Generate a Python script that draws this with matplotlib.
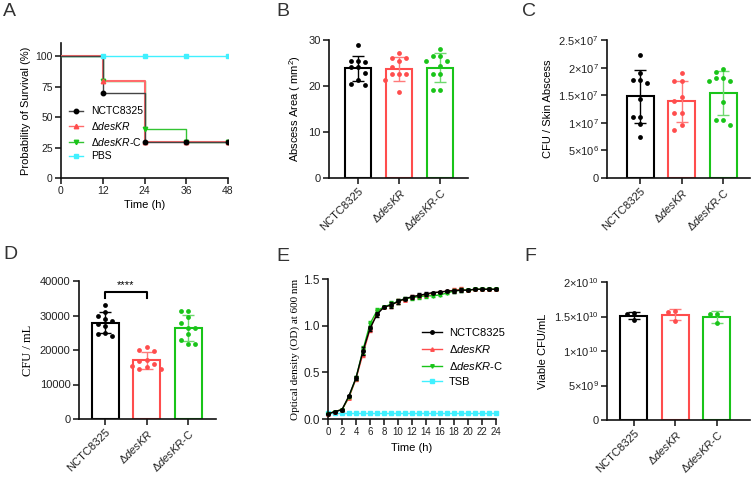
import numpy as np
import matplotlib
matplotlib.use('Agg')
import matplotlib.pyplot as plt
from matplotlib.lines import Line2D

plt.rcParams['font.family'] = ['Liberation Sans', 'DejaVu Sans']
plt.rcParams['mathtext.fontset'] = 'custom'
plt.rcParams['mathtext.rm'] = 'Liberation Sans'
plt.rcParams['mathtext.it'] = 'Liberation Sans:italic'
plt.rcParams['mathtext.default'] = 'regular'

# ---------------- data ----------------
groups = ['NCTC8325', r'$\Delta\mathit{desKR}$', r'$\Delta\mathit{desKR}$-C']
colors = ['black', '#FF4D4D', '#19C419']
err_colors = ['black', '#FF7A7A', '#6ED96E']

# A: survival (%)
surv_t = [0, 12, 24, 36, 48]
surv_nctc = [100, 70, 30, 30, 30]
surv_deskr = [100, 80, 30, 30, 30]
surv_deskrc = [100, 80, 40, 30, 30]
surv_pbs = [100, 100, 100, 100, 100]

# B: abscess area (mm2)
area_nctc = [29.0, 25.5, 25.5, 25.3, 24.1, 24.1, 22.8, 21.2, 20.4, 20.2]
area_deskr = [27.2, 26.1, 26.1, 25.5, 24.2, 22.7, 22.7, 22.7, 21.4, 18.8]
area_deskrc = [28.1, 26.5, 26.5, 25.5, 25.5, 24.4, 22.6, 22.6, 19.1, 19.1]

# C: CFU / skin abscess
cfu_nctc = [2.23e7, 1.90e7, 1.78e7, 1.78e7, 1.73e7, 1.43e7, 1.11e7, 1.11e7, 0.97e7, 0.75e7]
cfu_deskr = [1.90e7, 1.76e7, 1.76e7, 1.47e7, 1.40e7, 1.18e7, 1.18e7, 0.96e7, 0.87e7]
cfu_deskrc = [1.97e7, 1.92e7, 1.81e7, 1.81e7, 1.76e7, 1.76e7, 1.37e7, 1.05e7, 1.05e7, 0.96e7]
c_ticks = [0, 5e6, 1e7, 1.5e7, 2e7, 2.5e7]
c_ticklabels = ['0', r'5×10$^{6}$', r'1×10$^{7}$', r'1.5×10$^{7}$', r'2×10$^{7}$', r'2.5×10$^{7}$']

# D: CFU / mL
ml_nctc = [33000, 31000, 30000, 29000, 28500, 27500, 27000, 25000, 24500, 24000]
ml_deskr = [21000, 20000, 19600, 17200, 16800, 15800, 15500, 15000, 14500, 14400]
ml_deskrc = [31400, 31400, 29500, 27800, 26300, 26300, 24500, 22800, 21800, 21800]

# E: growth curve OD600
hours = list(range(25))
od_nctc = [0.055, 0.08, 0.10, 0.25, 0.44, 0.73, 0.97, 1.12, 1.20, 1.22, 1.26, 1.29, 1.31,
           1.325, 1.34, 1.355, 1.36, 1.37, 1.375, 1.38, 1.38, 1.39, 1.39, 1.39, 1.39]
od_deskr = [0.055, 0.08, 0.10, 0.23, 0.43, 0.70, 0.96, 1.14, 1.20, 1.22, 1.26, 1.28, 1.31,
            1.32, 1.33, 1.35, 1.36, 1.37, 1.38, 1.39, 1.38, 1.39, 1.39, 1.39, 1.39]
od_deskrc = [0.055, 0.08, 0.10, 0.24, 0.44, 0.74, 1.02, 1.16, 1.20, 1.23, 1.26, 1.29, 1.30,
             1.31, 1.32, 1.32, 1.33, 1.35, 1.37, 1.38, 1.38, 1.39, 1.39, 1.39, 1.39]
od_tsb = [0.065, 0.065, 0.065, 0.065, 0.065, 0.065, 0.065, 0.065, 0.065, 0.065, 0.065, 0.065, 0.065,
          0.065, 0.065, 0.065, 0.065, 0.065, 0.065, 0.065, 0.065, 0.065, 0.065, 0.065, 0.065]
od_err = [0.005, 0.005, 0.01, 0.01, 0.02, 0.04, 0.03, 0.03, 0.01, 0.03, 0.03, 0.02, 0.02,
          0.02, 0.02, 0.01, 0.01, 0.01, 0.02, 0.02, 0.01, 0.01, 0.01, 0.01, 0.01]

# F: viable CFU/mL
via_nctc = [1.55e10, 1.53e10, 1.45e10]
via_deskr = [1.58e10, 1.56e10, 1.44e10]
via_deskrc = [1.54e10, 1.54e10, 1.40e10]
f_ticks = [0, 5e9, 1e10, 1.5e10, 2e10]
f_ticklabels = ['0', r'5×10$^{9}$', r'1×10$^{10}$', r'1.5×10$^{10}$', r'2×10$^{10}$']

W, H = 753, 478
fig = plt.figure(figsize=(W / 100, H / 100), dpi=100)


def axes_px(left, right, top, bottom):
    return fig.add_axes([left / W, 1 - bottom / H, (right - left) / W, (bottom - top) / H])


def prism(ax, size=8):
    for s in ['top', 'right']:
        ax.spines[s].set_visible(False)
    for s in ['left', 'bottom']:
        ax.spines[s].set_linewidth(1.2)
        ax.spines[s].set_color('#111')
    ax.tick_params(direction='out', length=4, width=1.2, labelsize=size, colors='#222', pad=2)


def swarm(ax, vals, diam=6.0):
    pos = ax.get_position()
    x0, x1 = ax.get_xlim()
    y0, y1 = ax.get_ylim()
    ppx = pos.width * W / (x1 - x0)
    ppy = pos.height * H / (y1 - y0)
    offs = np.zeros(len(vals))
    placed = []
    for i in np.argsort(vals)[::-1]:
        y = vals[i] * ppy
        for k in [0, -1, 1, -2, 2, -3, 3]:
            x = k * diam * 1.2
            if all((x - a) ** 2 + (y - b) ** 2 >= diam ** 2 for a, b in placed):
                break
        placed.append((x, y))
        offs[i] = x / ppx
    return offs


def bar_panel(ax, data, xlim, ylim):
    ax.set_xlim(*xlim)
    ax.set_ylim(*ylim)
    for i, vals in enumerate(data):
        vals = np.array(vals)
        m, sd = vals.mean(), vals.std(ddof=1)
        ax.bar(i, m, width=0.65, facecolor='white', edgecolor=colors[i], linewidth=1.5, zorder=2)
        ax.errorbar(i, m, yerr=sd, color=err_colors[i], capsize=4, elinewidth=1, capthick=1, zorder=3)
        ax.scatter(i + swarm(ax, vals), vals, s=12, color=colors[i], zorder=4, linewidths=0)
    ax.set_xticks(range(3))
    ax.set_xticklabels(groups, rotation=45, ha='right', rotation_mode='anchor', fontsize=8.5)
    prism(ax)


def letter(x, y, s):
    fig.text(x / W, 1 - y / H, s, fontsize=14, color='#333', va='top', ha='left')


# ---------------- A ----------------
axA = axes_px(61, 228, 43, 178)
surv = [surv_nctc, surv_deskr, surv_deskrc, surv_pbs]
surv_lc = ['#444', '#FF6B6B', '#33C433', '#40F0FF']
surv_mc = ['black', '#FF4D4D', '#19C419', '#40F0FF']
surv_lw = [1.0, 1.5, 1.0, 1.0]
marks = ['o', '^', 'v', 's']
surv_z = [5, 4, 3, 2]
labelsA = groups + ['PBS']
for s, lc, mc, mk, z, lw in zip(surv, surv_lc, surv_mc, marks, surv_z, surv_lw):
    axA.step(surv_t, s, where='post', color=lc, lw=lw, zorder=z)
    axA.plot(surv_t[1:], s[1:], ls='none', marker=mk, color=mc, ms=3.2, zorder=z + 5)
axA.set_xlim(0, 48)
axA.set_ylim(0, 111)
axA.set_xticks(surv_t)
axA.set_yticks([0, 25, 50, 75, 100])
prism(axA, 7.5)
axA.set_xlabel('Time (h)', fontsize=8, labelpad=3)
axA.set_ylabel('Probability of Survival (%)', fontsize=8, labelpad=3)
handlesA = [Line2D([], [], color=lc, marker=mk, markerfacecolor=mc, markeredgecolor=mc, ms=3.2, lw=1)
            for lc, mc, mk in zip(surv_lc, surv_mc, marks)]
axA.legend(handlesA, labelsA, loc='upper left', bbox_to_anchor=(0.05, 0.53), frameon=False,
           fontsize=7.5, handlelength=1.3, handletextpad=0.8, labelspacing=0.35,
           borderpad=0, borderaxespad=0)

# ---------------- B ----------------
axB = axes_px(329, 468, 40, 178)
bar_panel(axB, [area_nctc, area_deskr, area_deskrc], (-0.71, 2.68), (0, 30))
axB.set_yticks([0, 10, 20, 30])
axB.set_ylabel(r'Abscess Area ( mm$^{2}$)', fontsize=8)

# ---------------- C ----------------
axC = axes_px(607, 750, 40, 178)
bar_panel(axC, [cfu_nctc, cfu_deskr, cfu_deskrc], (-0.80, 2.65), (0, 2.5e7))
axC.set_yticks(c_ticks)
axC.set_yticklabels(c_ticklabels)
axC.set_ylabel('CFU / Skin Abscess', fontsize=8)

# ---------------- D ----------------
axD = axes_px(79, 216, 281, 419)
bar_panel(axD, [ml_nctc, ml_deskr, ml_deskrc], (-0.63, 2.67), (0, 40000))
axD.set_yticks([0, 10000, 20000, 30000, 40000])
axD.set_ylabel('CFU / mL', fontsize=9, family='Liberation Serif')
axD.plot([0, 0, 1, 1], [35200, 36900, 36900, 35200], color='black', lw=1.5, clip_on=False)
axD.text(0.5, 37400, '****', ha='center', va='bottom', fontsize=8)

# ---------------- E ----------------
axE = axes_px(328, 496, 279, 419)
ods = [od_nctc, od_deskr, od_deskrc, od_tsb]
e_colors = ['black', '#FF4D4D', '#19C419', '#40F0FF']
e_z = [5, 3, 4, 2]
labelsE = groups + ['TSB']
for od, c, mk, z in zip(ods, e_colors, marks, e_z):
    errs = od_err if od is not od_tsb else None
    axE.errorbar(hours, od, yerr=errs, color=c, marker=mk, ms=2.5, lw=1, elinewidth=0.8,
                 capsize=1.5, zorder=z, clip_on=False)
axE.set_xlim(0, 24)
axE.set_ylim(0, 1.5)
axE.set_xticks(range(0, 25, 2))
axE.set_yticks([0, 0.5, 1.0, 1.5])
axE.set_yticklabels(['0.0', '0.5', '1.0', '1.5'])
prism(axE, 8.5)
axE.tick_params(axis='x', labelsize=7)
axE.set_xlabel('Time (h)', fontsize=8)
axE.set_ylabel('Optical density (OD) at 600 nm', fontsize=8, family='Liberation Serif', labelpad=2)
handlesE = [Line2D([], [], color=c, marker=mk, ms=2.5, lw=1) for c, mk in zip(e_colors, marks)]
axE.legend(handlesE, labelsE, loc='upper left', bbox_to_anchor=(0.56, 0.65), frameon=False,
           fontsize=8, handlelength=1.8, handletextpad=0.6, labelspacing=0.45,
           borderpad=0, borderaxespad=0)

# ---------------- F ----------------
axF = axes_px(607, 750, 282, 420)
bar_panel(axF, [via_nctc, via_deskr, via_deskrc], (-0.65, 2.80), (0, 2e10))
axF.set_yticks(f_ticks)
axF.set_yticklabels(f_ticklabels)
axF.set_ylabel('Viable CFU/mL', fontsize=8)

letter(3, 3, 'A')
letter(276, 3, 'B')
letter(522, 3, 'C')
letter(3, 246, 'D')
letter(276, 248, 'E')
letter(524, 248, 'F')

fig.savefig('out.png', dpi=100)
